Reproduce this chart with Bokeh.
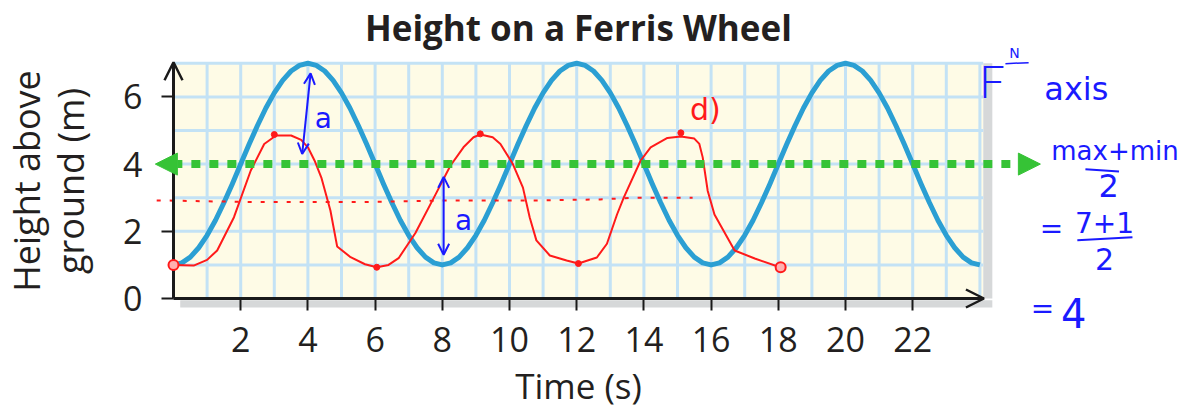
from bokeh.plotting import figure
from bokeh.models import Range1d, FixedTicker, Arrow, OpenHead, NormalHead, BoxAnnotation, Label
from bokeh.embed import file_html
from bokeh.resources import INLINE

# ---------------- data ----------------
time_blue = [0, 0.25, 0.5, 0.75, 1, 1.25, 1.5, 1.75, 2, 2.25, 2.5, 2.75, 3, 3.25, 3.5, 3.75,
             4, 4.25, 4.5, 4.75, 5, 5.25, 5.5, 5.75, 6, 6.25, 6.5, 6.75, 7, 7.25, 7.5, 7.75,
             8, 8.25, 8.5, 8.75, 9, 9.25, 9.5, 9.75, 10, 10.25, 10.5, 10.75, 11, 11.25, 11.5, 11.75,
             12, 12.25, 12.5, 12.75, 13, 13.25, 13.5, 13.75, 14, 14.25, 14.5, 14.75, 15, 15.25, 15.5, 15.75,
             16, 16.25, 16.5, 16.75, 17, 17.25, 17.5, 17.75, 18, 18.25, 18.5, 18.75, 19, 19.25, 19.5, 19.75,
             20, 20.25, 20.5, 20.75, 21, 21.25, 21.5, 21.75, 22, 22.25, 22.5, 22.75, 23, 23.25, 23.5, 23.75, 24]
height_blue = [1.0, 1.06, 1.23, 1.51, 1.88, 2.33, 2.85, 3.41, 4.0, 4.59, 5.15, 5.67, 6.12, 6.49, 6.77, 6.94,
               7.0, 6.94, 6.77, 6.49, 6.12, 5.67, 5.15, 4.59, 4.0, 3.41, 2.85, 2.33, 1.88, 1.51, 1.23, 1.06,
               1.0, 1.06, 1.23, 1.51, 1.88, 2.33, 2.85, 3.41, 4.0, 4.59, 5.15, 5.67, 6.12, 6.49, 6.77, 6.94,
               7.0, 6.94, 6.77, 6.49, 6.12, 5.67, 5.15, 4.59, 4.0, 3.41, 2.85, 2.33, 1.88, 1.51, 1.23, 1.06,
               1.0, 1.06, 1.23, 1.51, 1.88, 2.33, 2.85, 3.41, 4.0, 4.59, 5.15, 5.67, 6.12, 6.49, 6.77, 6.94,
               7.0, 6.94, 6.77, 6.49, 6.12, 5.67, 5.15, 4.59, 4.0, 3.41, 2.85, 2.33, 1.88, 1.51, 1.23, 1.06, 1.0]

red_time = [0.0, 0.6, 1.0, 1.3, 1.8, 2.3, 2.7, 3.05, 3.5, 3.8, 4.0, 4.2, 4.4, 4.67, 4.87, 5.27, 5.7, 6.05,
            6.4, 6.7, 7.2, 7.8, 8.24, 8.63, 8.93, 9.13, 9.5, 9.73, 10.1, 10.4, 10.6, 10.8, 11.2, 11.7, 12.05,
            12.6, 12.9, 13.2, 13.4, 13.9, 14.2, 14.7, 15.1, 15.5, 15.65, 15.75, 15.9, 16.1, 16.7, 17.3, 18.05]
red_height = [1.0, 0.98, 1.15, 1.43, 2.42, 3.81, 4.6, 4.85, 4.85, 4.72, 4.5, 4.1, 3.6, 2.62, 1.55, 1.23, 1.02, 0.93,
              1.0, 1.2, 1.95, 3.1, 3.95, 4.5, 4.8, 4.88, 4.8, 4.6, 4.0, 3.3, 2.42, 1.73, 1.28, 1.13, 1.04,
              1.22, 1.63, 2.5, 3.0, 4.1, 4.5, 4.78, 4.82, 4.76, 4.6, 4.2, 3.2, 2.5, 1.43, 1.19, 0.93]

red_dot_time = [3.0, 6.05, 9.13, 12.05, 15.1]
red_dot_height = [4.88, 0.93, 4.9, 1.04, 4.93]
red_ring_time = [0.0, 18.07]
red_ring_height = [1.0, 0.93]

dotted_time = [-0.5, 2.3, 5.5, 8.2, 11.0, 12.7, 13.8, 15.45]
dotted_height = [2.92, 2.87, 2.87, 2.92, 2.92, 2.95, 3.0, 3.0]

x_tick_values = [2, 4, 6, 8, 10, 12, 14, 16, 18, 20, 22]
y_tick_values = [0, 2, 4, 6]
grid_x = [1, 2, 3, 4, 5, 6, 7, 8, 9, 10, 11, 12, 13, 14, 15, 16, 17, 18, 19, 20, 21, 22, 23, 24]
grid_y = [1, 2, 3, 4, 5, 6, 7]

# ---------------- styles ----------------
TEXT = "#231f20"
AXIS = "#1a1a1a"
BLUE_CURVE = "#2b9fd3"
GRID = "#c3e2f5"
CREAM = "#fefbe6"
SHADOW = "#d6d8d9"
GREEN = "#36c336"
RED = "#ff1a1a"
INK = "#1a1aff"
HAND = "DejaVu Sans"

W, H = 1182, 407
UNIT = 33.6
X0 = 173     # pixel of time 0
Y0 = 298     # pixel of height 0 (from top)
x_start = -X0 / UNIT
x_end = (W - X0) / UNIT
y_end = Y0 / UNIT
y_start = -(H - Y0) / UNIT

p = figure(width=W, height=H, x_range=Range1d(x_start, x_end), y_range=Range1d(y_start, y_end),
           output_backend="svg", toolbar_location=None,
           min_border_left=0, min_border_right=0, min_border_top=0, min_border_bottom=0)
p.outline_line_color = None
p.grid.visible = False
p.background_fill_color = "white"
p.border_fill_color = "white"

# plotting area background & shadows
p.add_layout(BoxAnnotation(left=0, right=24.1, bottom=0, top=7.0, fill_color=CREAM, fill_alpha=1,
                           line_color=None, level="underlay"))
p.add_layout(BoxAnnotation(left=24.1, right=24.37, bottom=0, top=7.0, fill_color=SHADOW, fill_alpha=1,
                           line_color=None, level="underlay"))
p.add_layout(BoxAnnotation(left=0.2, right=24.37, bottom=-0.27, top=-0.05, fill_color=SHADOW, fill_alpha=1,
                           line_color=None, level="underlay"))

# grid
p.segment(x0=grid_x, y0=0, x1=grid_x, y1=7.0, line_color=GRID, line_width=3)
p.segment(x0=0, y0=grid_y, x1=24.1, y1=grid_y, line_color=GRID, line_width=3)

# axes
xa = p.xaxis[0]
ya = p.yaxis[0]
for ax in (xa, ya):
    ax.fixed_location = 0
    ax.axis_line_color = AXIS
    ax.axis_line_width = 3
    ax.major_tick_line_color = AXIS
    ax.major_tick_line_width = 2
    ax.major_tick_in = 0
    ax.major_tick_out = 12
    ax.minor_tick_line_color = None
    ax.major_label_text_font = "Open Sans"
    ax.major_label_text_font_size = "34px"
    ax.major_label_text_color = TEXT
    ax.axis_label_text_font = "Open Sans"
    ax.axis_label_text_font_style = "normal"
    ax.axis_label_text_color = TEXT
xa.bounds = (0, 24.1)
ya.bounds = (0, 7.0)
xa.ticker = FixedTicker(ticks=x_tick_values)
ya.ticker = FixedTicker(ticks=y_tick_values)
xa.axis_label = "Time (s)"
xa.axis_label_text_font_size = "35px"
xa.major_label_standoff = 16
xa.axis_label_standoff = 7
ya.axis_label = "Height above\nground (m)"
ya.axis_label_text_font_size = "36px"
ya.axis_label_text_line_height = 0.9
ya.major_label_standoff = 19
ya.axis_label_standoff = 25
ya.major_label_orientation = "horizontal"

p.add_layout(Arrow(end=OpenHead(size=18, line_width=2.5, line_color=AXIS),
                   x_start=23.8, y_start=0, x_end=24.12, y_end=0, line_color=AXIS, line_width=3))
p.add_layout(Arrow(end=OpenHead(size=18, line_width=2.5, line_color=AXIS),
                   x_start=0, y_start=6.7, x_end=0, y_end=7.03, line_color=AXIS, line_width=3))

# blue curve
p.line(time_blue, height_blue, line_color=BLUE_CURVE, line_width=5, line_join="round")

# red dotted line
p.line(dotted_time, dotted_height, line_color=RED, line_width=2, line_dash="4 9")

# red hand-drawn curve
p.line(red_time, red_height, line_color=RED, line_width=2, line_join="round")
p.scatter(red_dot_time, red_dot_height, marker="circle", size=6, fill_color=RED, line_color=RED)

# green dashed mid-line arrow
p.add_layout(Arrow(start=NormalHead(size=22, fill_color=GREEN, line_color=GREEN),
                   end=NormalHead(size=22, fill_color=GREEN, line_color=GREEN),
                   x_start=-0.54, y_start=4, x_end=25.8, y_end=4,
                   line_color=GREEN, line_width=8, line_dash="9 9"))

# blue amplitude arrows
for xs, ys, xe, ye in [(3.83, 4.3, 4.08, 6.7), (8.04, 1.3, 8.04, 3.62)]:
    p.add_layout(Arrow(start=OpenHead(size=11, line_color=INK, line_width=2),
                       end=OpenHead(size=11, line_color=INK, line_width=2),
                       x_start=xs, y_start=ys, x_end=xe, y_end=ye, line_color=INK, line_width=2))

def hand(x, y, text, size, color=INK, font=HAND):
    p.add_layout(Label(x=x, y=y, text=text, text_font=font, text_font_size=size, text_color=color,
                       text_align="center", text_baseline="middle"))

hand(4.46, 5.36, "a", "28px")
hand(8.63, 2.32, "a", "28px")
hand(15.83, 5.62, "d)", "30px", RED)

# right-hand notes
hand(24.36, 6.49, "F", "46px", INK, "Lato Light, Lato, DejaVu Sans")
hand(25.03, 7.3, "N", "14px")
p.add_layout(Arrow(start=None, end=None, x_start=24.76, y_start=6.99, x_end=25.45, y_end=7.02,
                   line_color=INK, line_width=1.5))
hand(26.87, 6.25, "axis", "32px")
hand(28.02, 4.38, "max+min", "26px")
p.add_layout(Arrow(start=None, end=None, x_start=27.14, y_start=3.85, x_end=28.14, y_end=3.78,
                   line_color=INK, line_width=2))
hand(27.83, 3.36, "2", "32px")
hand(26.13, 2.08, "=", "28px")
hand(27.71, 2.25, "7+1", "28px")
p.add_layout(Arrow(start=None, end=None, x_start=26.9, y_start=1.73, x_end=28.54, y_end=1.82,
                   line_color=INK, line_width=2))
hand(27.71, 1.19, "2", "30px")
hand(25.86, -0.30, "=", "28px")
hand(26.79, -0.42, "4", "40px")

# title
p.add_layout(Label(x=12.05, y=8.07, text="Height on a Ferris Wheel", text_font="Open Sans",
                   text_font_style="bold", text_font_size="35px", text_color=TEXT,
                   text_align="center", text_baseline="middle"))

# start / end rings drawn last so they sit over the axis
p.scatter(red_ring_time, red_ring_height, marker="circle", size=10, fill_color="#ffb0b0",
          line_color=RED, line_width=2, level="overlay")

open("out.html", "w").write(file_html(p, INLINE))
